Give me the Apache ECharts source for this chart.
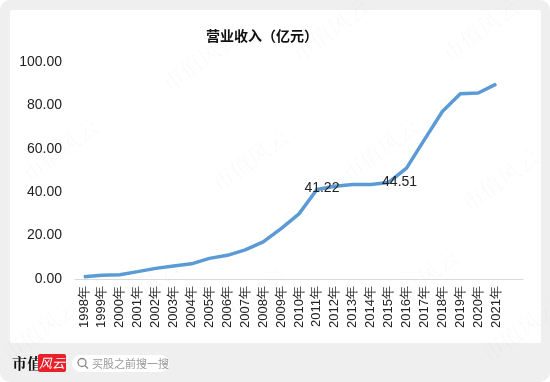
<!DOCTYPE html>
<html><head><meta charset="utf-8">
<script src="https://cdn.jsdelivr.net/npm/echarts@6/dist/echarts.min.js"></script>
<style>html,body{margin:0;padding:0;background:#fff}#c{width:550px;height:382px}</style>
</head><body><div id="c"></div>
<script>
const years = ['1998年','1999年','2000年','2001年','2002年','2003年','2004年','2005年','2006年','2007年','2008年','2009年','2010年','2011年','2012年','2013年','2014年','2015年','2016年','2017年','2018年','2019年','2020年','2021年',''];
const revenue = [1.0,1.7,2.0,3.4,4.9,6.0,7.0,9.5,10.9,13.4,17.1,23.2,30.0,41.22,42.7,43.6,43.6,44.51,51.1,64.2,77.2,85.4,85.7,89.8,null];
const labelled = {13: [5,0], 17: [11,1]};
const yTicks = [0,20,40,60,80,100];

const chart = echarts.init(document.getElementById('c'), null, {renderer:'canvas'});
const wm = [];
const wmPos = [[60,150],[200,60],[330,30],[480,30],[140,290],[250,160],[380,150],[500,180],[250,300],[420,280],[40,330],[520,330]];
wmPos.forEach(p => wm.push({type:'text', x:p[0], y:p[1], rotation:Math.PI/5, z:-5,
  style:{text:'市值风云', font:'22px "Noto Serif CJK SC","Noto Sans CJK SC"', fill:'rgba(0,0,0,0.022)', align:'center', verticalAlign:'middle'}}));

chart.setOption({
  backgroundColor:'#ffffff',
  animation:false,
  title:{text:'营业收入（亿元）', left:201, top:24, textStyle:{fontSize:14, fontWeight:'bold', color:'#111', fontFamily:'"Noto Sans CJK SC"'}},
  graphic:[
    {type:'rect', z:-20, shape:{x:0,y:0,width:550,height:382,r:10}, style:{fill:'#efefef'}},
    {type:'rect', z:-19, shape:{x:10,y:10,width:531,height:333,r:2}, style:{fill:'#ffffff'}},
    ...wm,
    {type:'text', x:12, y:363, style:{text:'市值', font:'bold 15px "Noto Serif CJK SC","Noto Sans CJK SC"', fill:'#111', verticalAlign:'middle'}},
    {type:'rect', shape:{x:38,y:354,width:28,height:18,r:2}, style:{fill:'#e8202a'}},
    {type:'text', x:52, y:363, style:{text:'风云', font:'italic 13px "Noto Sans CJK SC"', fill:'#fff', align:'center', verticalAlign:'middle'}},
    {type:'rect', shape:{x:72,y:355,width:97,height:17,r:8.5}, style:{fill:'#ffffff'}},
    {type:'circle', shape:{cx:82,cy:362.5,r:4}, style:{fill:'none', stroke:'#888', lineWidth:1.3}},
    {type:'line', shape:{x1:85,y1:365.5,x2:88,y2:368.5}, style:{stroke:'#888', lineWidth:1.3}},
    {type:'text', x:92, y:363.5, style:{text:'买股之前搜一搜', font:'11px "Noto Sans CJK SC"', fill:'#999', verticalAlign:'middle'}}
  ],
  grid:{left:75, right:27, top:62, bottom:103, containLabel:false},
  xAxis:{type:'category', data:years, boundaryGap:true,
    axisLine:{lineStyle:{color:'#d9d9d9', width:1}}, axisTick:{show:false},
    axisLabel:{interval:0, rotate:90, fontSize:13, color:'#222', fontFamily:'"Liberation Sans", Arial', margin:7}},
  yAxis:{type:'value', min:0, max:100, interval:20,
    axisLine:{show:false}, axisTick:{show:false}, splitLine:{show:false},
    axisLabel:{fontSize:14, color:'#222', fontFamily:'"Liberation Sans", Arial', margin:13,
      formatter:v => yTicks.includes(v) ? v.toFixed(2) : ''}},
  series:[{type:'line',
    data:revenue.map((v,i)=> labelled[i] ? {value:v, label:{show:true, position:'top', distance:-6, offset:labelled[i], fontSize:14, color:'#222', fontFamily:'"Liberation Sans", Arial', formatter:p => p.value.toFixed(2)}} : v),
    symbol:'circle', symbolSize:1, showSymbol:true, smooth:false, connectNulls:false,
    itemStyle:{color:'#5b9bd5'},
    lineStyle:{color:'#5b9bd5', width:3.5},
    label:{show:false}}]
});
</script></body></html>
